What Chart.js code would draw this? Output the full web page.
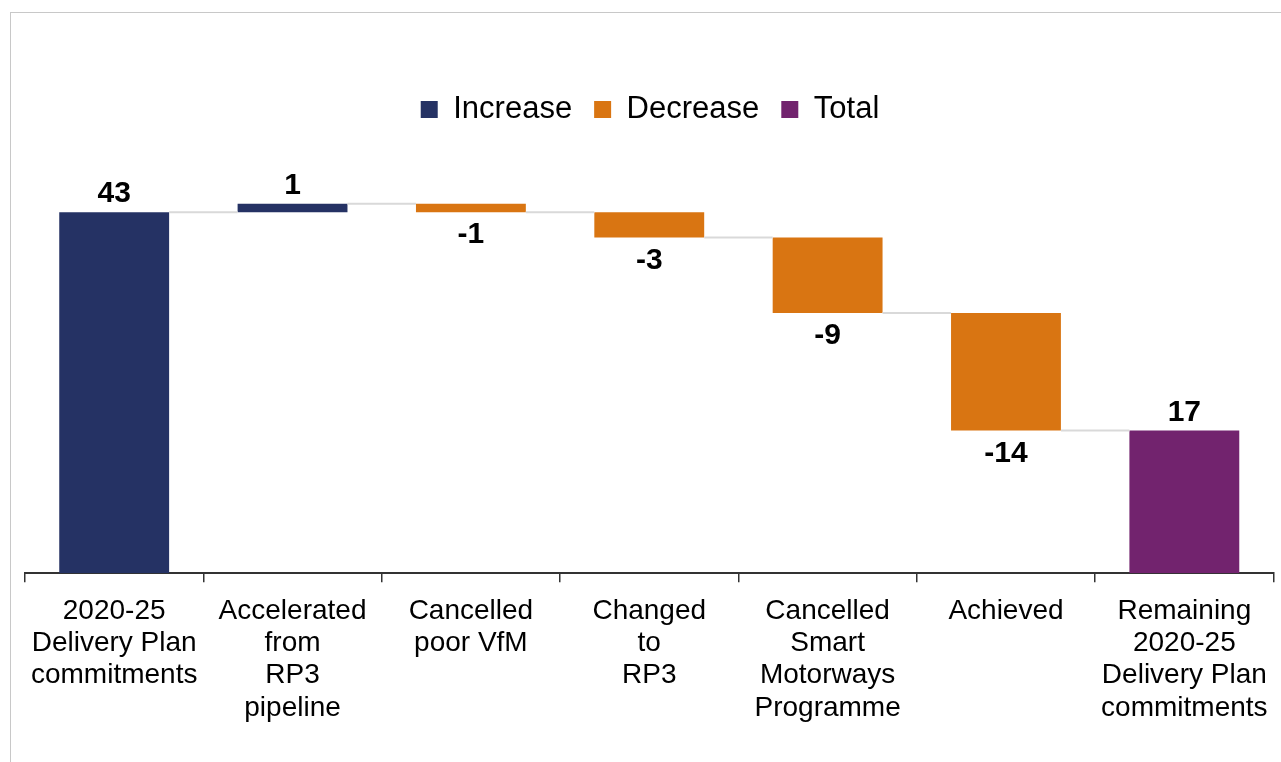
<!DOCTYPE html>
<html>
<head>
<meta charset="utf-8">
<script src="https://cdn.jsdelivr.net/npm/chart.js@4"></script>
<style>
  html, body { margin: 0; padding: 0; background: #fff; overflow: hidden; }
  #frame { position: absolute; left: 10px; top: 12px; width: 1400px; height: 900px; border: 1px solid #c8c8c8; }
  #wrap { position: absolute; left: 0; top: 0; width: 1281px; height: 762px; }
</style>
</head>
<body>
<div id="frame"></div>
<div id="wrap"><canvas id="waterfall"></canvas></div>
<script>
const categories = [
  ["2020-25", "Delivery Plan", "commitments"],
  ["Accelerated", "from", "RP3", "pipeline"],
  ["Cancelled", "poor VfM"],
  ["Changed", "to", "RP3"],
  ["Cancelled", "Smart", "Motorways", "Programme"],
  ["Achieved"],
  ["Remaining", "2020-25", "Delivery Plan", "commitments"]
];
const changes = [43, 1, -1, -3, -9, -14, 17];
const kinds = ["Increase", "Increase", "Decrease", "Decrease", "Decrease", "Decrease", "Total"];
const seriesNames = ["Increase", "Decrease", "Total"];
const seriesColors = ["#253264", "#d97512", "#72236e"];

// floating ranges for the waterfall
const ranges = [];
let running = 0;
changes.forEach((v, i) => {
  if (kinds[i] === "Total" && i > 0) {
    ranges.push([0, v]);
    running = v;
  } else {
    ranges.push([running, running + v]);
    running += v;
  }
});

const datasets = seriesNames.map((name, s) => ({
  label: name,
  data: ranges.map((r, i) => kinds[i] === name ? r : null),
  backgroundColor: seriesColors[s],
  borderWidth: 0,
  grouped: false,
  categoryPercentage: 1,
  barPercentage: 0.616
}));

const waterfallExtras = {
  id: "waterfallExtras",
  afterDatasetsDraw(chart) {
    const c = chart.ctx;
    const y = chart.scales.y;
    const bars = categories.map((_, i) => {
      const s = seriesNames.indexOf(kinds[i]);
      return chart.getDatasetMeta(s).data[i];
    });
    // connectors
    c.save();
    c.strokeStyle = "#d9d9d9";
    c.lineWidth = 2;
    for (let i = 0; i < bars.length - 1; i++) {
      const level = ranges[i][1];
      const py = y.getPixelForValue(level);
      c.beginPath();
      c.moveTo(bars[i].x + bars[i].width / 2, py);
      c.lineTo(bars[i + 1].x - bars[i + 1].width / 2, py);
      c.stroke();
    }
    // value labels
    c.fillStyle = "#000";
    c.font = "bold 30px 'Liberation Sans', Arial, sans-serif";
    c.textAlign = "center";
    bars.forEach((b, i) => {
      const v = changes[i];
      const top = Math.min(b.y, b.base);
      const bottom = Math.max(b.y, b.base);
      if (v >= 0) {
        c.textBaseline = "bottom";
        c.fillText(String(v), b.x, top - 3);
      } else {
        c.textBaseline = "top";
        c.fillText(String(v), b.x, bottom + 8);
      }
    });
    c.restore();
  }
};

new Chart(document.getElementById("waterfall"), {
  type: "bar",
  data: { labels: categories, datasets: datasets },
  options: {
    responsive: true,
    maintainAspectRatio: false,
    animation: false,
    layout: { padding: { top: 72, left: 25, right: 6, bottom: 25 } },
    plugins: {
      legend: {
        position: "top",
        labels: {
          color: "#000",
          boxWidth: 17,
          boxHeight: 17,
          padding: 22,
          font: { family: "'Liberation Sans', Arial, sans-serif", size: 31 }
        }
      },
      tooltip: { enabled: false }
    },
    scales: {
      x: {
        grid: {
          display: true,
          drawOnChartArea: false,
          drawTicks: true,
          tickLength: 9,
          color: "#333",
          lineWidth: 1.5,
          offset: true
        },
        border: { display: true, color: "#333", width: 2 },
        ticks: {
          color: "#000",
          padding: 13,
          maxRotation: 0,
          autoSkip: false,
          font: { family: "'Liberation Sans', Arial, sans-serif", size: 28, lineHeight: 1.15 }
        }
      },
      y: {
        display: false,
        min: 0,
        max: 52.2
      }
    }
  },
  plugins: [waterfallExtras]
});
</script>
</body>
</html>
